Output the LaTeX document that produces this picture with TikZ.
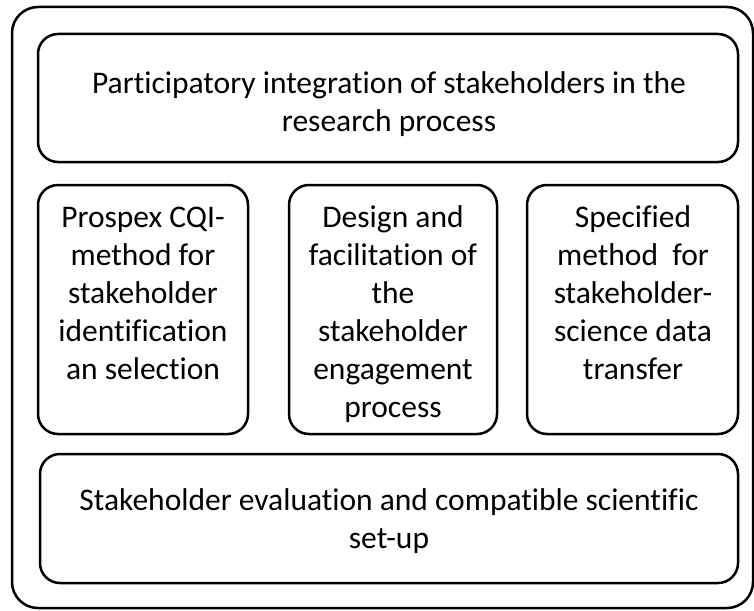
\documentclass[tikz,border=0pt]{standalone}
\usepackage{fontspec}
\setmainfont{Carlito}[Ligatures=NoCommon]
\usepackage{tikz}

\begin{document}
\begin{tikzpicture}[x=1pt, y=-1pt,
    box/.style={draw, line width=2.5pt, rounded corners=20pt, inner sep=0pt},
    txt/.style={align=center, inner sep=0pt, anchor=north, font=\fontsize{31.5}{38}\selectfont}]
    \useasboundingbox (0,0) rectangle (754,610);
    \node (frame) [box, rounded corners=26pt, minimum width=741pt, minimum height=601pt] at (382.5,307.5) {};

    \node (top) [box, minimum width=700pt, minimum height=128pt] at (388,98) {};
    \node (left) [box, minimum width=210pt, minimum height=249pt] at (143,309.5) {};
    \node (mid) [box, minimum width=208pt, minimum height=249pt] at (393,309.5) {};
    \node (right) [box, minimum width=211pt, minimum height=249pt] at (632.5,309.5) {};
    \node (bottom) [box, minimum width=698pt, minimum height=129pt] at (389,518.5) {};

    \node (integration) [txt] at (389,66.4) {\strut Participatory integration of stakeholders in the\\research process};
    \node (cqi) [txt] at (143,200.4) {\strut Prospex CQI-\\method for\\stakeholder\\identification\\an selection};
    \node (design) [txt] at (393,200.4) {\strut Design and\\facilitation of\\the\\stakeholder\\engagement\\process};
    \node (transfer) [txt] at (633,200.4) {\strut Specified\\method~ for\\stakeholder-\\science data\\transfer};
    \node (evaluation) [txt] at (389,483.4) {\strut Stakeholder evaluation and compatible scientific\\set-up};
\end{tikzpicture}
\end{document}
